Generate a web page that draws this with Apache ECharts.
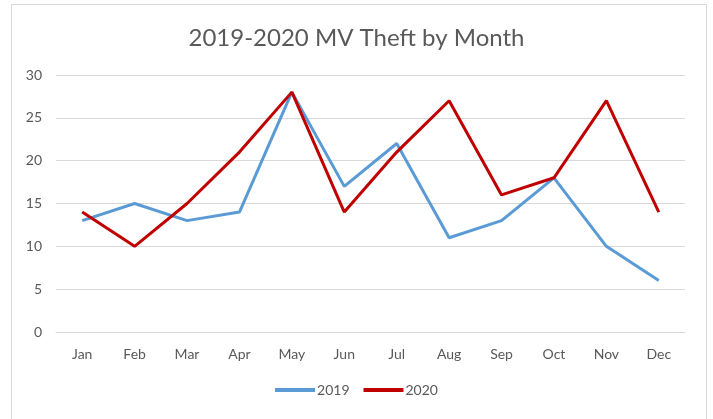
<!DOCTYPE html>
<html><head><meta charset="utf-8">
<script src="https://cdn.jsdelivr.net/npm/echarts@6/dist/echarts.min.js"></script>
<style>html,body{margin:0;padding:0;background:#fff}#c{width:713px;height:419px}
#frame{position:absolute;left:11px;top:4px;width:696px;height:420px;border:1px solid #d9d9d9;box-sizing:border-box;pointer-events:none}</style>
</head><body><div id="c"></div><div id="frame"></div>
<script>
const months = ['Jan','Feb','Mar','Apr','May','Jun','Jul','Aug','Sep','Oct','Nov','Dec'];
const s2019 = [13,15,13,14,28,17,22,11,13,18,10,6];
const s2020 = [14,10,15,21,28,14,21,27,16,18,27,14];
const yTicks = [0,5,10,15,20,25,30];
const chart = echarts.init(document.getElementById('c'));
const font = 'Lato, "Open Sans", sans-serif';
chart.setOption({
  animation:false,
  title:{text:'2019-2020 MV Theft by Month',left:'center',top:21,textStyle:{fontFamily:font,fontSize:24,fontWeight:'normal',color:'#595959'}},
  legend:{bottom:17,left:'center',itemWidth:40,itemHeight:4,itemGap:14,icon:'rect',textStyle:{fontFamily:font,fontSize:14,color:'#595959',padding:[0,0,0,-3]},
    data:['2019','2020']},
  grid:{left:56,right:28,top:75,bottom:87,containLabel:false},
  xAxis:{type:'category',data:months,boundaryGap:true,axisLine:{show:true,lineStyle:{color:'#d9d9d9'}},axisTick:{show:false},
    axisLabel:{fontFamily:font,fontSize:14,color:'#595959',margin:15}},
  yAxis:{type:'value',min:yTicks[0],max:yTicks[yTicks.length-1],interval:5,axisLine:{show:false},axisTick:{show:false},
    splitLine:{lineStyle:{color:'#d9d9d9'}},axisLabel:{fontFamily:font,fontSize:14,color:'#595959',margin:14}},
  series:[
    {name:'2019',type:'line',data:s2019,symbol:'none',lineStyle:{width:3,color:'#5B9BD5'},itemStyle:{color:'#5B9BD5'}},
    {name:'2020',type:'line',data:s2020,symbol:'none',lineStyle:{width:3,color:'#C00000'},itemStyle:{color:'#C00000'}}
  ]
});
</script></body></html>
